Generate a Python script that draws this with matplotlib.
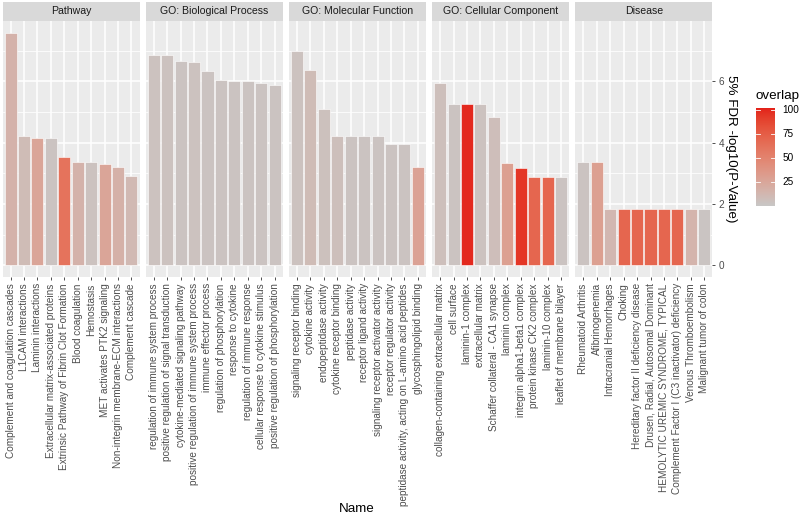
import numpy as np
import matplotlib
matplotlib.use("Agg")
import matplotlib.pyplot as plt
from matplotlib.colors import ListedColormap, Normalize

plt.rcParams['font.family'] = ['Liberation Sans', 'DejaVu Sans']

facets = ["Pathway", "GO: Biological Process", "GO: Molecular Function",
          "GO: Cellular Component", "Disease"]

pathway_names = ["Complement and coagulation cascades", "L1CAM interactions", "Laminin interactions",
                 "Extracellular matrix-associated proteins", "Extrinsic Pathway of Fibrin Clot Formation",
                 "Blood coagulation", "Hemostasis", "MET activates PTK2 signaling",
                 "Non-integrin membrane-ECM interactions", "Complement cascade"]
pathway_values = [7.59, 4.21, 4.17, 4.17, 3.55, 3.36, 3.36, 3.32, 3.22, 2.90]
pathway_overlap = [16, 9, 26, 3, 62, 16, 4, 26, 17, 11]

bp_names = ["regulation of immune system process", "positive regulation of signal transduction",
            "cytokine-mediated signaling pathway", "positive regulation of immune system process",
            "immune effector process", "regulation of phosphorylation", "response to cytokine",
            "regulation of immune response", "cellular response to cytokine stimulus",
            "positive regulation of phosphorylation"]
bp_values = [6.87, 6.87, 6.65, 6.63, 6.33, 6.03, 6.00, 6.00, 5.96, 5.87]
bp_overlap = [4, 4, 3, 4, 3, 3, 3, 3, 3, 3]

mf_names = ["signaling receptor binding", "cytokine activity", "endopeptidase activity",
            "cytokine receptor binding", "peptidase activity", "receptor ligand activity",
            "signaling receptor activator activity", "receptor regulator activity",
            "peptidase activity, acting on L-amino acid peptides", "glycosphingolipid binding"]
mf_values = [7.00, 6.38, 5.09, 4.22, 4.22, 4.22, 4.22, 3.95, 3.95, 3.21]
mf_overlap = [4, 9, 5, 6, 3, 3, 3, 3, 3, 28]

cc_names = ["collagen-containing extracellular matrix", "cell surface", "laminin-1 complex",
            "extracellular matrix", "Schaffer collateral - CA1 synapse", "laminin complex",
            "integrin alpha1-beta1 complex", "protein kinase CK2 complex", "laminin-10 complex",
            "leaflet of membrane bilayer"]
cc_values = [5.95, 5.26, 5.26, 5.26, 4.84, 3.33, 3.16, 2.87, 2.87, 2.87]
cc_overlap = [6, 3, 100, 4, 7, 30, 95, 70, 70, 3]

disease_names = ["Rheumatoid Arthritis", "Afibrinogenemia", "Intracranial Hemorrhages", "Choking",
                 "Hereditary factor II deficiency disease", "Drusen, Radial, Autosomal Dominant",
                 "HEMOLYTIC UREMIC SYNDROME, TYPICAL", "Complement Factor I (C3 inactivator) deficiency",
                 "Venous Thromboembolism", "Malignant tumor of colon"]
disease_values = [3.38, 3.38, 1.83, 1.83, 1.83, 1.83, 1.83, 1.83, 1.83, 1.83]
disease_overlap = [3, 30, 12, 70, 70, 70, 70, 70, 15, 2]

all_names = [pathway_names, bp_names, mf_names, cc_names, disease_names]
all_values = [pathway_values, bp_values, mf_values, cc_values, disease_values]
all_overlap = [pathway_overlap, bp_overlap, mf_overlap, cc_overlap, disease_overlap]

y_ticks = [0, 2, 4, 6]
legend_ticks = [25, 50, 75, 100]
ov_min, ov_max = 0, 102

FS_TICK = 7.2
FS_STRIP = 7.6
FS_TITLE = 9.6

# ---- Lab-space gradient (like ggplot scale_fill_gradient) ----
def srgb_to_lab(rgb):
    rgb = np.asarray(rgb, float)
    lin = np.where(rgb <= 0.04045, rgb / 12.92, ((rgb + 0.055) / 1.055) ** 2.4)
    M = np.array([[0.4124, 0.3576, 0.1805], [0.2126, 0.7152, 0.0722], [0.0193, 0.1192, 0.9505]])
    xyz = M @ lin
    wp = np.array([0.95047, 1.0, 1.08883])
    t = xyz / wp
    f = np.where(t > (6/29) ** 3, np.cbrt(t), t / (3 * (6/29) ** 2) + 4/29)
    return np.array([116 * f[1] - 16, 500 * (f[0] - f[1]), 200 * (f[1] - f[2])])

def lab_to_srgb(lab):
    L, a, b = lab
    fy = (L + 16) / 116
    fx = fy + a / 500
    fz = fy - b / 200
    f = np.array([fx, fy, fz])
    t = np.where(f > 6/29, f ** 3, 3 * (6/29) ** 2 * (f - 4/29))
    xyz = t * np.array([0.95047, 1.0, 1.08883])
    Minv = np.array([[3.2406, -1.5372, -0.4986], [-0.9689, 1.8758, 0.0415], [0.0557, -0.2040, 1.0570]])
    lin = Minv @ xyz
    lin = np.clip(lin, 0, 1)
    rgb = np.where(lin <= 0.0031308, 12.92 * lin, 1.055 * lin ** (1 / 2.4) - 0.055)
    return np.clip(rgb, 0, 1)

low = np.array([0xC8, 0xC7, 0xC6]) / 255
high = np.array([0xE3, 0x22, 0x1A]) / 255
lab_lo, lab_hi = srgb_to_lab(low), srgb_to_lab(high)
cols = [lab_to_srgb(lab_lo + (lab_hi - lab_lo) * s) for s in np.linspace(0, 1, 256)]
cmap = ListedColormap(cols)
norm = Normalize(ov_min, ov_max)

# ---- layout ----
W, H = 800, 519
fig = plt.figure(figsize=(8, 5.19), dpi=100)
fig.patch.set_facecolor("white")

panel_top, panel_bot = 21, 277
strip_top = 2
left0, pw, step = 2.5, 137, 143.2
ymax = max(max(v) for v in all_values)
ylim = (-0.05 * ymax, 1.05 * ymax)

for i, (title, names, vals, ovs) in enumerate(zip(facets, all_names, all_values, all_overlap)):
    lx = left0 + i * step
    ax = fig.add_axes([lx / W, 1 - panel_bot / H, pw / W, (panel_bot - panel_top) / H])
    ax.set_facecolor("#EBEBEB")
    x = np.arange(len(names))
    ax.set_xlim(-0.6, len(names) - 0.4)
    ax.set_ylim(*ylim)
    for yy in [1, 3, 5, 7]:
        ax.axhline(yy, color="white", lw=0.55, zorder=0.5)
    for yy in y_ticks:
        ax.axhline(yy, color="white", lw=1.1, zorder=0.6)
    for xx in x:
        ax.axvline(xx, color="white", lw=1.1, zorder=0.6)
    ax.bar(x, vals, width=0.9, color=cmap(norm(np.array(ovs))), edgecolor="white",
           linewidth=0.4, zorder=2)
    for s in ax.spines.values():
        s.set_visible(False)
    ax.set_xticks(x)
    ax.set_xticklabels(names, rotation=90, fontsize=FS_TICK, color="#4D4D4D")
    ax.tick_params(axis="x", length=2.5, width=0.6, color="#333333", pad=2)
    if i == len(facets) - 1:
        ax.yaxis.tick_right()
        ax.set_yticks(y_ticks)
        ax.set_yticklabels([str(t) for t in y_ticks], fontsize=FS_TICK, color="#4D4D4D")
        ax.tick_params(axis="y", length=2.5, width=0.6, color="#333333", pad=2)
    else:
        ax.set_yticks([])
    # strip
    sax = fig.add_axes([lx / W, 1 - panel_top / H, pw / W, (panel_top - strip_top) / H])
    sax.set_facecolor("#D9D9D9")
    sax.set_xticks([]); sax.set_yticks([])
    for s in sax.spines.values():
        s.set_visible(False)
    sax.text(0.5, 0.5, title, ha="center", va="center", fontsize=FS_STRIP, color="#1A1A1A",
             transform=sax.transAxes)

fig.text(357 / W, 1 - 509 / H, "Name", ha="center", va="center", fontsize=FS_TITLE, color="black")
fig.text(731 / W, 1 - 149 / H, "5% FDR -log10(P-Value)", ha="center", va="center",
         rotation=270, fontsize=FS_TITLE, color="black")

# ---- legend colorbar ----
cb_l, cb_r, cb_t, cb_b = 756, 775, 108, 206
cax = fig.add_axes([cb_l / W, 1 - cb_b / H, (cb_r - cb_l) / W, (cb_b - cb_t) / H])
grad = np.linspace(ov_min, ov_max, 300).reshape(-1, 1)
cax.imshow(grad, aspect="auto", cmap=cmap, norm=norm, origin="lower",
           extent=(0, 1, ov_min, ov_max))
cax.set_xlim(0, 1); cax.set_ylim(ov_min, ov_max)
for s in cax.spines.values():
    s.set_visible(False)
cax.set_xticks([])
cax.set_yticks([])
for t in legend_ticks:
    cax.plot([0, 0.2], [t, t], color="white", lw=0.6)
    cax.plot([0.8, 1], [t, t], color="white", lw=0.6)
    cax.text(1.4, t, str(t), ha="left", va="center", fontsize=FS_TICK, color="black",
             transform=cax.transData)
fig.text(755 / W, 1 - 96 / H, "overlap", ha="left", va="center", fontsize=FS_TITLE, color="black")

fig.savefig("out.png", dpi=100, facecolor="white")
